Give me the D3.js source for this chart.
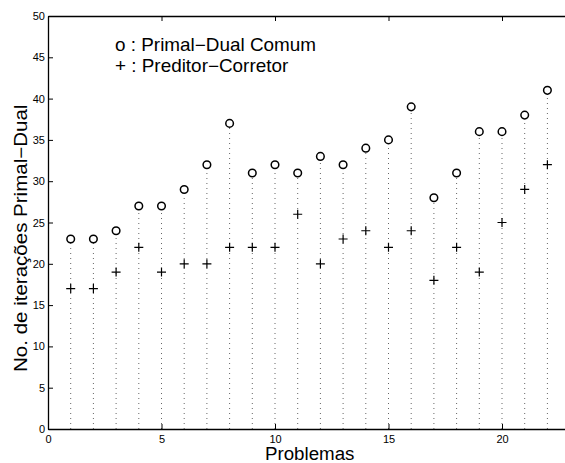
<!DOCTYPE html>
<html>
<head>
<meta charset="utf-8">
<script src="https://cdn.jsdelivr.net/npm/d3@7"></script>
<style>
  body { margin: 0; background: #fff; }
  svg text { font-family: "Liberation Sans", Arial, sans-serif; fill: #000; }
</style>
</head>
<body>
<div class="canvas"></div>
<script>
// problem indices and iteration counts
const problems = d3.range(1, 23);
const primalDual = [23, 23, 24, 27, 27, 29, 32, 37, 31, 32, 31, 33, 32, 34, 35, 39, 28, 31, 36, 36, 38, 41];
const preditorCorretor = [17, 17, 19, 22, 19, 20, 20, 22, 22, 22, 26, 20, 23, 24, 22, 24, 18, 22, 19, 25, 29, 32];
const xTicks = [0, 5, 10, 15, 20];
const yTicks = [0, 5, 10, 15, 20, 25, 30, 35, 40, 45, 50];

const width = 565, height = 463;
const margin = {top: 16, left: 48, bottom: 34};

const svg = d3.select('.canvas')
  .append('svg')
    .attr('width', width)
    .attr('height', height);

// x axis runs past the right edge of the picture (0..23)
const x = d3.scaleLinear()
  .domain([0, 23])
  .range([margin.left, margin.left + 23 * (454 / 20)]);

const y = d3.scaleLinear()
  .domain([0, 50])
  .range([height - margin.bottom, margin.top]);

const graph = svg.append('g');

// dotted stems (drawn up to the taller marker)
graph.selectAll('line.stem')
  .data(problems)
  .enter()
  .append('line')
    .attr('class', 'stem')
    .attr('x1', d => x(d))
    .attr('x2', d => x(d))
    .attr('y1', y(0))
    .attr('y2', (d, i) => y(Math.max(primalDual[i], preditorCorretor[i])) + 4)
    .attr('stroke', '#666')
    .attr('stroke-width', 1)
    .attr('stroke-dasharray', '1,4');

// circles
graph.selectAll('circle')
  .data(problems)
  .enter()
  .append('circle')
    .attr('cx', d => x(d))
    .attr('cy', (d, i) => y(primalDual[i]))
    .attr('r', 3.8)
    .attr('fill', 'none')
    .attr('stroke', '#000')
    .attr('stroke-width', 1.5);

// plus markers
graph.selectAll('path.plus')
  .data(problems)
  .enter()
  .append('path')
    .attr('class', 'plus')
    .attr('d', (d, i) => {
      const cx = x(d), cy = y(preditorCorretor[i]), s = 4.5;
      return `M${cx - s},${cy}H${cx + s}M${cx},${cy - s}V${cy + s}`;
    })
    .attr('stroke', '#000')
    .attr('stroke-width', 1.2);

// axes
const xAxis = d3.axisBottom(x).tickValues(xTicks).tickSizeInner(-5).tickSizeOuter(0).tickPadding(6);
const xAxisTop = d3.axisTop(x).tickValues(xTicks.slice(1)).tickSizeInner(-5).tickSizeOuter(0).tickFormat('');
const yAxis = d3.axisLeft(y).tickValues(yTicks).tickSizeInner(-5).tickSizeOuter(0).tickPadding(3);

const xAxisGroup = svg.append('g')
  .attr('transform', `translate(0,${y(0)})`)
  .call(xAxis);
const xTopGroup = svg.append('g')
  .attr('transform', `translate(0,${y(50)})`)
  .call(xAxisTop);
const yAxisGroup = svg.append('g')
  .attr('transform', `translate(${x(0)},0)`)
  .call(yAxis);

[xAxisGroup, xTopGroup, yAxisGroup].forEach(g => {
  g.select('.domain').attr('stroke', '#000').attr('stroke-width', 1.3);
  g.selectAll('.tick line').attr('stroke', '#000');
  g.selectAll('.tick text').style('font-size', '11px').attr('fill', '#000');
});
xAxisGroup.selectAll('.tick').filter(d => d === 0).select('line').remove();

// labels (glyphs slightly widened to match the original Helvetica output)
svg.append('text')
  .attr('transform', 'translate(265,460) scale(1.04,1)')
  .style('font-size', '18px')
  .text('Problemas');

svg.append('text')
  .attr('transform', 'translate(27,372) rotate(-90) scale(1.14,1)')
  .style('font-size', '18px')
  .text('No. de iterações Primal−Dual');

// legend text
svg.append('text')
  .attr('transform', 'translate(115,51) scale(1.08,1)')
  .style('font-size', '17.5px')
  .text('o : Primal−Dual Comum');
svg.append('text')
  .attr('transform', 'translate(115,72) scale(1.08,1)')
  .style('font-size', '17.5px')
  .text('+ : Preditor−Corretor');
</script>
</body>
</html>
